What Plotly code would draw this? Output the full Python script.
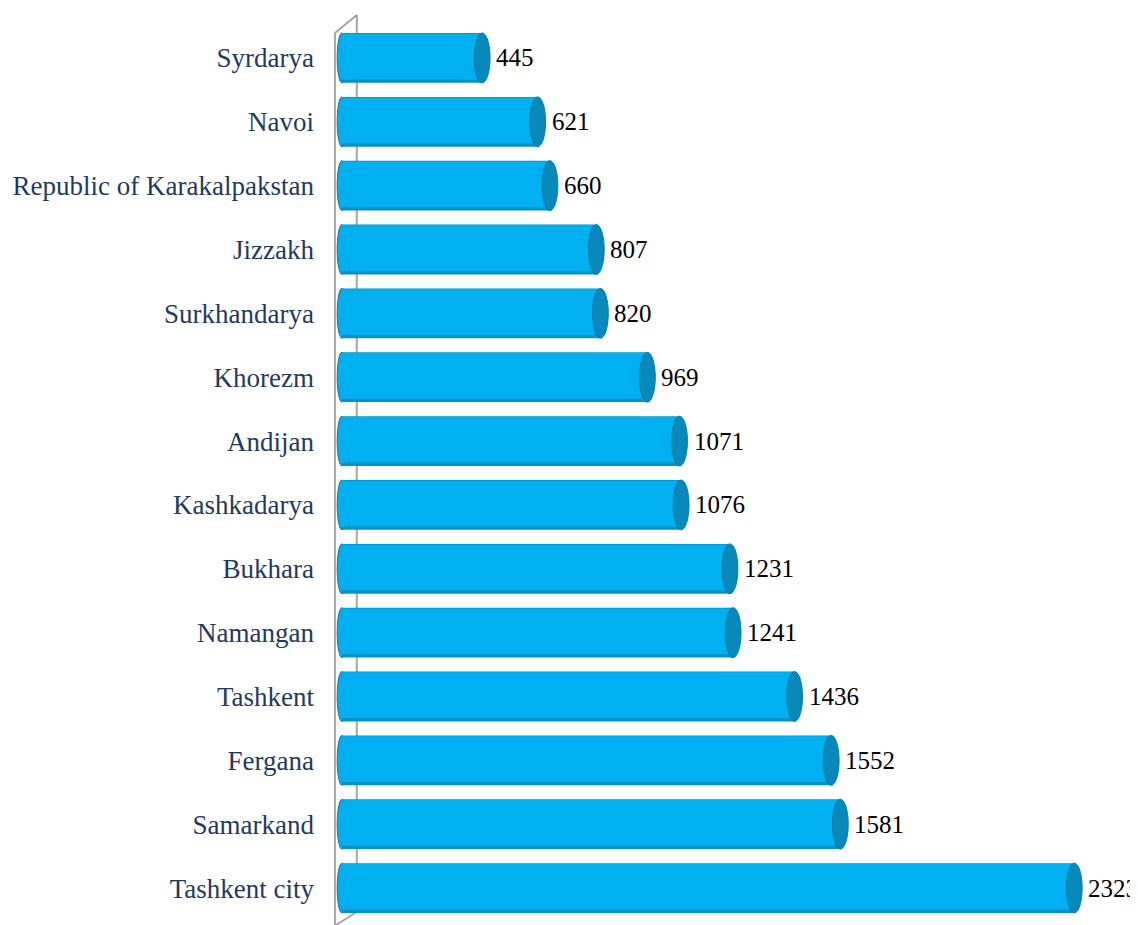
import plotly.graph_objects as go

categories = ["Syrdarya", "Navoi", "Republic of Karakalpakstan", "Jizzakh", "Surkhandarya",
              "Khorezm", "Andijan", "Kashkadarya", "Bukhara", "Namangan", "Tashkent",
              "Fergana", "Samarkand", "Tashkent city"]
values = [445, 621, 660, 807, 820, 969, 1071, 1076, 1231, 1241, 1436, 1552, 1581, 2323]
value_labels = [str(v) for v in values]

positions = list(range(len(categories)))

BODY = "#00B0F0"
SHADE = "#0891C6"
CAP = "#0889BA"
EDGE = "#1477A0"
WALL = "#A6A6A6"

BAR_W = 0.78
CAP_W = 50       # cap ellipse width in data units
LCAP_W = 30

fig = go.Figure()
fig.add_trace(go.Bar(x=values, y=positions, orientation="h", width=BAR_W, offset=-BAR_W / 2,
                     marker=dict(color=SHADE, line=dict(width=0)), hoverinfo="skip"))
fig.add_trace(go.Bar(x=values, y=positions, orientation="h", width=BAR_W - 0.065,
                     offset=-BAR_W / 2 + 0.012,
                     marker=dict(color=BODY, line=dict(width=0)), hoverinfo="skip"))

# figure geometry (page body adds an 8px margin)
W, H = 1130, 917
L, R, T, B = 312, 30, 18, 5
pw, ph = W - L - R, H - T - B


def px(x):
    return (x - L) / pw


def py(y):
    return (H - B - y) / ph


shapes = []
wall = dict(type="line", xref="paper", yref="paper", line=dict(color=WALL, width=2), layer="below")
shapes.append({**wall, "x0": px(322), "x1": px(322), "y0": py(25), "y1": py(917)})
shapes.append({**wall, "x0": px(322), "x1": px(344), "y0": py(25), "y1": py(7)})
shapes.append({**wall, "x0": px(344), "x1": px(344), "y0": py(7), "y1": py(904)})
shapes.append({**wall, "x0": px(323), "x1": px(344), "y0": py(917), "y1": py(904)})

for p, v in zip(positions, values):
    # left rounded end
    shapes.append(dict(type="circle", xref="x", yref="y", layer="below",
                       x0=-LCAP_W / 2, x1=LCAP_W / 2, y0=p - BAR_W / 2, y1=p + BAR_W / 2,
                       fillcolor=BODY, line=dict(color=EDGE, width=1)))
    # right cap
    shapes.append(dict(type="circle", xref="x", yref="y", layer="above",
                       x0=v - CAP_W / 2, x1=v + CAP_W / 2, y0=p - BAR_W / 2, y1=p + BAR_W / 2,
                       fillcolor=CAP, line=dict(color=EDGE, width=1)))

annotations = []
for p, v, t in zip(positions, values, value_labels):
    annotations.append(dict(x=v, y=p, xref="x", yref="y", text=t, showarrow=False,
                            xanchor="left", yanchor="middle", xshift=12,
                            font=dict(family="Liberation Serif", size=25, color="#000000")))

fig.update_layout(
    width=W, height=H,
    margin=dict(l=L, r=R, t=T, b=B),
    paper_bgcolor="white", plot_bgcolor="white",
    showlegend=False, barmode="overlay",
    shapes=shapes, annotations=annotations,
    xaxis=dict(range=[-53.6, 2429.9], visible=False, showgrid=False, zeroline=False),
    yaxis=dict(range=[13.5, -0.5], tickmode="array", tickvals=positions, ticktext=categories,
               showgrid=False, zeroline=False, showline=False, ticks="",
               ticklabelstandoff=10,
               tickfont=dict(family="Liberation Serif", size=27, color="#1F3A60")),
)

fig.write_html("out.html")
